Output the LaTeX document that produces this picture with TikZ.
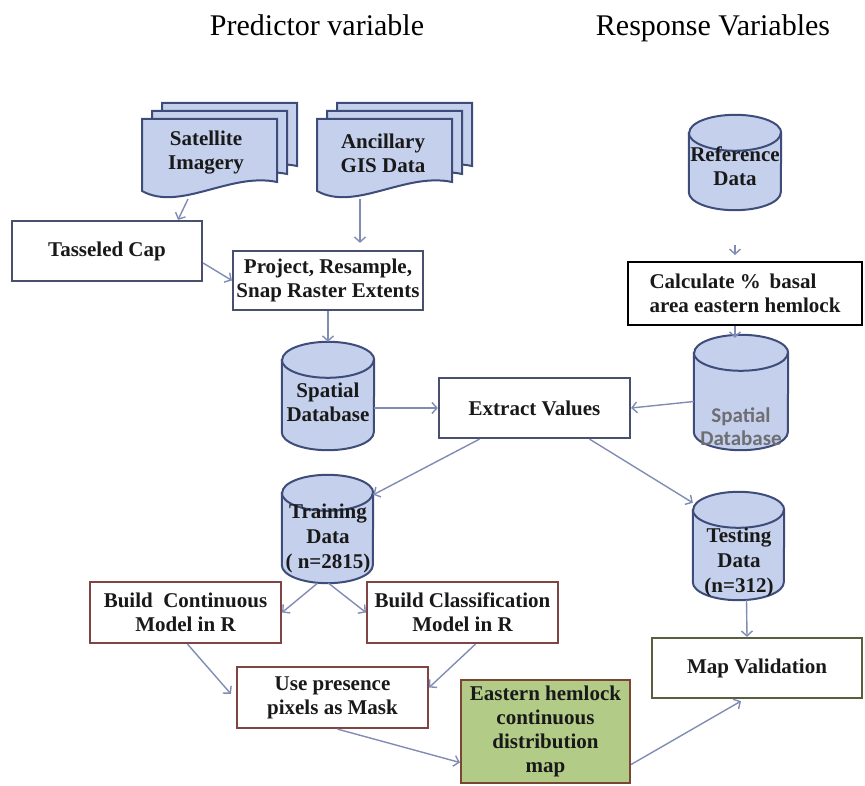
\documentclass[tikz,border=0pt]{standalone}
\usepackage{fontspec}
\setmainfont{Liberation Serif}
\newfontfamily\grayfont{Carlito}
\usetikzlibrary{arrows.meta,calc}
\definecolor{dbfill}{RGB}{197,208,236}
\definecolor{dbline}{RGB}{62,76,122}
\definecolor{arrc}{RGB}{128,140,180}
\definecolor{boxc}{RGB}{72,80,110}
\definecolor{redc}{RGB}{128,68,68}
\definecolor{olivec}{RGB}{88,94,62}
\definecolor{greenf}{RGB}{178,204,135}
\definecolor{greenb}{RGB}{120,70,50}
\definecolor{txtc}{RGB}{25,25,25}
\definecolor{grayt}{RGB}{110,110,115}
\newcommand\docshape[2]{%
  \draw[docst, shift={(#1,#2)}] (142,119) -- (142,191) .. controls (180,212) and (230,172) .. (277,182) -- (277,119) -- cycle;}
\newcommand\dbshape[3]{%
  \draw[dbst, fill=dbfill] ([yshift=-#3pt]#1.north west) -- ([yshift=#3pt]#1.south west)
     arc[start angle=180,end angle=360,x radius=#2pt,y radius=#3pt]
     -- ([yshift=-#3pt]#1.north east)
     arc[start angle=0,end angle=180,x radius=#2pt,y radius=#3pt] -- cycle;
  \draw[dbst] ([yshift=-#3pt]#1.north west) arc[start angle=180,end angle=360,x radius=#2pt,y radius=#3pt];}
\begin{document}
\begin{tikzpicture}[x=1pt,y=-1pt,
  txt/.style={text=txtc, align=center, inner sep=0pt, font=\fontsize{21}{24}\selectfont\bfseries},
  box/.style={txt, draw=boxc, line width=2.2pt, fill=white},
  redbox/.style={box, draw=redc},
  docst/.style={draw=dbline, line width=2pt, fill=dbfill},
  dbst/.style={draw=dbline, line width=2pt},
  dbnode/.style={inner sep=0pt},
  arr/.style={draw=arrc, line width=1.4pt, -{Straight Barb[length=5pt,width=11pt,line width=1.4pt]}},
  title/.style={text=black, anchor=base, font=\fontsize{30}{36}\selectfont}]
\useasboundingbox (0,0) rectangle (865,786);

% titles
\node[title] (t1) at (317,36) {Predictor variable};
\node[title] (t2) at (713,36) {Response Variables};

% document stacks
\docshape{20}{-16}
\docshape{10}{-8}
\docshape{0}{0}
\docshape{195}{-16}
\docshape{185}{-8}
\docshape{175}{0}
\node[txt] (sat) at (206,153) {Satellite\\Imagery};
\node[txt] (anc) at (383,153) {Ancillary\\GIS Data};
\coordinate (satb) at (188,199);
\coordinate (ancb) at (360,199);

% boxes
\node[box, minimum width=190pt, minimum height=60pt] (tass) at (107,251) {Tasseled Cap};
\node[box, minimum width=190pt, minimum height=59pt] (proj) at (328,280.5) {Project, Resample,\\Snap Raster Extents};
\node[box, minimum width=191pt, minimum height=60pt] (extr) at (534.5,408) {Extract Values};
\node[txt, draw=black, line width=1.8pt, fill=white, align=left,
      minimum width=234pt, minimum height=63pt] (calc) at (745,293.5) {Calculate \%\ \,basal\\area eastern hemlock};
\node[redbox, minimum width=191pt, minimum height=61pt] (bcont) at (185.5,612.5) {Build~ Continuous\\Model in R};
\node[redbox, minimum width=191pt, minimum height=61pt] (bclass) at (462.5,612.5) {Build Classification\\Model in R};
\node[redbox, minimum width=191pt, minimum height=61pt] (usep) at (332.5,697.5) {Use presence\\pixels as Mask};
\node[box, draw=greenb, fill=greenf, minimum width=169pt, minimum height=103pt] (east) at (545.5,731.5)
   {Eastern hemlock\\continuous\\distribution\\map};
\node[box, draw=olivec, minimum width=210pt, minimum height=60pt] (mapv) at (757,668) {Map Validation};

% cylinders
\node[dbnode, minimum width=92pt, minimum height=108pt] (sdbL) at (328,396) {};
\dbshape{sdbL}{46}{18}
\node[txt] (sdbL-t) at (328,402) {Spatial\\Database};

\node[dbnode, minimum width=92pt, minimum height=95pt] (ref) at (735,162.5) {};
\dbshape{ref}{46}{18}
\node[txt] (ref-t) at (735,166) {Reference\\Data};

\node[dbnode, minimum width=94pt, minimum height=115pt] (sdbR) at (741,392.5) {};
\dbshape{sdbR}{47}{18}
\node[txt, text=grayt, font=\fontsize{21}{23}\selectfont\grayfont\bfseries] (sdbR-t) at (741,427) {Spatial\\Database};

\node[dbnode, minimum width=91pt, minimum height=108pt] (train) at (327.5,529) {};
\dbshape{train}{45.5}{18}
\node[txt, font=\fontsize{21}{25}\selectfont\bfseries] (train-t) at (328,538) {Training\\Data\\( n=2815)};

\node[dbnode, minimum width=91pt, minimum height=108pt] (test) at (738.5,546) {};
\dbshape{test}{45.5}{18}
\node[txt, font=\fontsize{21}{25}\selectfont\bfseries] (test-t) at (739,562) {Testing\\Data\\(n=312)};

% small arrow stubs
\coordinate (refa) at (735,245);
\coordinate (refb) at (735,255);

% connectors
\draw[arr] (satb) -- ([xshift=71pt]tass.north);
\draw[arr] ([yshift=-12pt]tass.east) -- (proj.west);
\draw[arr] (ancb) -- ([xshift=32pt,yshift=7pt]proj.north);
\draw[arr] (proj.south) -- (sdbL.north);
\draw[arr] ([yshift=-12pt]sdbL.east) -- (extr.west);
\draw[arr] ([yshift=-9pt]sdbR.west) -- (extr.east);
\draw[arr] (refa) -- (refb);
\draw[arr] ([xshift=-10pt]calc.south) -- ([xshift=-10pt,yshift=-3pt]calc.south |- sdbR.north);
\draw[arr] ([xshift=-55pt]extr.south) -- ([yshift=-20pt]train.north east);
\draw[arr] ([xshift=55pt]extr.south) -- ([yshift=-11pt]test.north west);
\draw[arr] ([xshift=-10pt]train.south) -- (bcont.east);
\draw[arr] ([xshift=1pt]train.south) -- (bclass.west);
\draw[arr] ([xshift=2pt]bcont.south) -- ([xshift=-5pt,yshift=-28pt]usep.north west);
\draw[arr] ([xshift=13pt]bclass.south) -- ([yshift=10pt]usep.east);
\draw[arr] ([xshift=5pt]usep.south) -- ([yshift=-31pt]east.west);
\draw[arr] ([xshift=8pt]test.south) -- ([xshift=-10pt]mapv.north);
\draw[arr] ([yshift=-33pt]east.east) -- ([xshift=-16pt,yshift=-2pt]mapv.south);
\end{tikzpicture}
\end{document}
